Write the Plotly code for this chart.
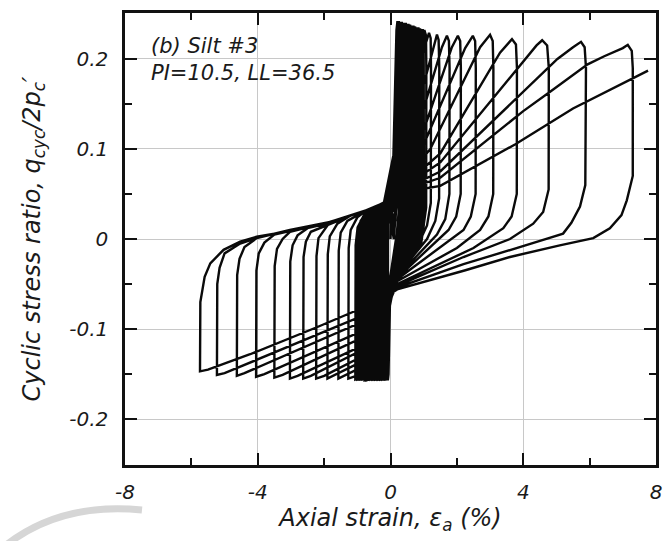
import plotly.graph_objects as go

# ---------------- digitised data (axial strain %, q_cyc/2p'c) in test order ----------------
# early small cycles (dense black core)
small_01 = [(0.0, 0.0), (0.06, 0.05), (0.18, 0.232), (0.21, 0.242), (0.24, 0.234), (0.245, 0.03), (0.19, 0.006),
            (0.0, -0.04), (-0.06, -0.15), (-0.08, -0.157), (-0.075, 0.0), (-0.04, 0.035), (0.0, 0.045)]
small_02 = [(0.06, 0.05), (0.2, 0.232), (0.23, 0.242), (0.26, 0.234), (0.265, 0.03), (0.21, 0.006), (0.0, -0.04),
            (-0.08, -0.15), (-0.12, -0.157), (-0.115, 0.005), (-0.07, 0.036), (-0.01, 0.045)]
small_03 = [(0.07, 0.05), (0.22, 0.232), (0.25, 0.242), (0.28, 0.234), (0.285, 0.03), (0.23, 0.005), (0.0, -0.041),
            (-0.09, -0.15), (-0.16, -0.157), (-0.155, 0.005), (-0.11, 0.035), (-0.02, 0.044)]
small_04 = [(0.08, 0.03), (0.25, 0.231), (0.28, 0.241), (0.31, 0.233), (0.315, 0.028), (0.26, 0.004),
            (-0.01, -0.042), (-0.1, -0.15), (-0.2, -0.157), (-0.195, 0.004), (-0.15, 0.034), (-0.04, 0.043)]
small_05 = [(0.08, 0.05), (0.28, 0.231), (0.31, 0.241), (0.34, 0.233), (0.345, 0.028), (0.29, 0.004),
            (0.0, -0.042), (-0.11, -0.15), (-0.23, -0.156), (-0.25, -0.157), (-0.245, 0.004), (-0.2, 0.033),
            (-0.06, 0.043)]
small_06 = [(0.12, 0.01), (0.31, 0.231), (0.34, 0.241), (0.37, 0.233), (0.375, 0.027), (0.32, 0.003),
            (-0.02, -0.043), (-0.12, -0.15), (-0.27, -0.156), (-0.3, -0.157), (-0.295, 0.003), (-0.25, 0.032),
            (-0.08, 0.043)]
small_07 = [(0.08, 0.05), (0.35, 0.23), (0.38, 0.24), (0.41, 0.232), (0.415, 0.027), (0.36, 0.003), (0.0, -0.043),
            (-0.13, -0.15), (-0.32, -0.156), (-0.35, -0.157), (-0.345, 0.003), (-0.3, 0.032), (-0.1, 0.042)]
small_08 = [(0.12, 0.07), (0.39, 0.23), (0.42, 0.24), (0.45, 0.232), (0.455, 0.026), (0.39, 0.002),
            (0.02, -0.044), (-0.14, -0.15), (-0.36, -0.156), (-0.4, -0.157), (-0.395, 0.002), (-0.35, 0.031),
            (-0.1, 0.042)]
small_09 = [(0.15, 0.02), (0.43, 0.23), (0.46, 0.24), (0.49, 0.232), (0.495, 0.026), (0.43, 0.002),
            (-0.02, -0.044), (-0.15, -0.148), (-0.41, -0.156), (-0.45, -0.157), (-0.445, 0.002), (-0.4, 0.03),
            (-0.1, 0.042)]
small_10 = [(0.1, 0.055), (0.47, 0.229), (0.5, 0.239), (0.53, 0.231), (0.535, 0.025), (0.47, 0.001),
            (0.0, -0.045), (-0.16, -0.146), (-0.45, -0.156), (-0.5, -0.157), (-0.495, 0.001), (-0.45, 0.03),
            (-0.1, 0.042)]
small_11 = [(0.14, 0.08), (0.51, 0.229), (0.54, 0.239), (0.57, 0.231), (0.575, 0.024), (0.51, 0.0),
            (0.02, -0.045), (-0.17, -0.145), (-0.5, -0.156), (-0.55, -0.157), (-0.545, 0.0), (-0.5, 0.029),
            (-0.35, 0.036), (-0.1, 0.042)]
small_12 = [(0.1, 0.0), (0.56, 0.228), (0.59, 0.238), (0.62, 0.23), (0.625, 0.023), (0.56, -0.001),
            (-0.02, -0.045), (-0.18, -0.144), (-0.54, -0.156), (-0.6, -0.157), (-0.595, -0.001), (-0.55, 0.028),
            (-0.4, 0.035), (-0.1, 0.042)]
small_13 = [(0.1, 0.06), (0.61, 0.227), (0.64, 0.237), (0.67, 0.229), (0.675, 0.022), (0.6, -0.002),
            (0.0, -0.045), (-0.2, -0.142), (-0.6, -0.156), (-0.66, -0.157), (-0.655, -0.002), (-0.61, 0.027),
            (-0.45, 0.034), (-0.1, 0.042)]
small_14 = [(0.15, 0.09), (0.66, 0.227), (0.69, 0.237), (0.72, 0.229), (0.725, 0.021), (0.65, -0.003),
            (0.02, -0.046), (-0.21, -0.141), (-0.65, -0.156), (-0.72, -0.157), (-0.715, -0.003), (-0.67, 0.026),
            (-0.5, 0.033), (-0.1, 0.042)]
small_15 = [(0.16, 0.03), (0.71, 0.226), (0.74, 0.236), (0.77, 0.228), (0.775, 0.02), (0.7, -0.004),
            (-0.02, -0.046), (-0.22, -0.14), (-0.7, -0.156), (-0.78, -0.157), (-0.775, -0.004), (-0.73, 0.025),
            (-0.55, 0.033), (-0.1, 0.042)]
small_16 = [(0.11, 0.065), (0.76, 0.225), (0.79, 0.235), (0.82, 0.227), (0.825, 0.019), (0.75, -0.004),
            (0.0, -0.046), (-0.24, -0.139), (-0.75, -0.155), (-0.84, -0.156), (-0.835, -0.005), (-0.79, 0.023),
            (-0.6, 0.032), (-0.12, 0.041)]
small_17 = [(0.17, 0.1), (0.81, 0.225), (0.84, 0.235), (0.87, 0.227), (0.875, 0.018), (0.8, -0.005),
            (0.02, -0.046), (-0.25, -0.138), (-0.8, -0.155), (-0.9, -0.156), (-0.895, -0.005), (-0.85, 0.022),
            (-0.65, 0.032), (-0.15, 0.041)]
small_18 = [(0.09, 0.05), (0.86, 0.224), (0.89, 0.234), (0.92, 0.226), (0.925, 0.017), (0.85, -0.005),
            (-0.02, -0.046), (-0.26, -0.137), (-0.84, -0.155), (-0.95, -0.156), (-0.945, -0.006), (-0.9, 0.02),
            (-0.7, 0.031), (-0.18, 0.041)]
small_19 = [(0.13, 0.075), (0.9, 0.223), (0.93, 0.233), (0.96, 0.225), (0.965, 0.016), (0.88, -0.006),
            (0.0, -0.046), (-0.27, -0.137), (-0.88, -0.154), (-1.0, -0.156), (-0.995, -0.007), (-0.94, 0.015),
            (-0.75, 0.029), (-0.2, 0.04)]
small_20 = [(0.18, 0.11), (0.94, 0.223), (0.97, 0.233), (1.0, 0.225), (1.005, 0.016), (0.92, -0.006),
            (0.02, -0.046), (-0.28, -0.136), (-0.92, -0.154), (-1.06, -0.156), (-1.05, -0.007), (-0.99, 0.013),
            (-0.78, 0.028), (-0.22, 0.040)]

# later, widening cycles
cycle_14 = [(0.1, 0.05), (0.5, 0.15), (0.95, 0.222), (1.02, 0.232), (1.07, 0.226), (1.08, 0.19), (1.075, 0.035),
            (0.98, 0.01), (0.75, -0.008), (0.1, -0.042), (-0.3, -0.138), (-1.1, -0.153), (-1.27, -0.155),
            (-1.26, -0.01), (-1.2, 0.01), (-1.0, 0.024), (-0.72, 0.032), (-0.22, 0.040)]
cycle_15 = [(0.1, 0.05), (0.6, 0.14), (1.07, 0.218), (1.16, 0.229), (1.21, 0.223), (1.22, 0.19), (1.215, 0.04),
            (1.1, 0.015), (0.85, -0.005), (0.1, -0.042), (-0.3, -0.132), (-1.4, -0.152), (-1.57, -0.155),
            (-1.56, -0.013), (-1.5, 0.007), (-1.3, 0.02), (-0.72, 0.032), (-0.22, 0.040)]
cycle_16 = [(0.1, 0.05), (0.7, 0.13), (1.3, 0.215), (1.4, 0.227), (1.45, 0.221), (1.47, 0.19), (1.465, 0.045),
            (1.35, 0.02), (1.1, 0.0), (0.15, -0.043), (-0.3, -0.126), (-1.7, -0.152), (-1.9, -0.155),
            (-1.89, -0.017), (-1.83, 0.003), (-1.6, 0.017), (-1.2, 0.026), (-0.72, 0.032), (-0.22, 0.040)]
cycle_17 = [(0.1, 0.05), (0.8, 0.12), (1.55, 0.213), (1.7, 0.2257), (1.76, 0.22), (1.78, 0.19), (1.775, 0.05),
            (1.65, 0.022), (1.4, 0.005), (0.15, -0.044), (-0.3, -0.12), (-2.0, -0.152), (-2.24, -0.155),
            (-2.23, -0.019), (-2.17, 0.001), (-1.95, 0.013), (-1.82, 0.019), (-1.2, 0.026), (-0.72, 0.032),
            (-0.22, 0.040)]
cycle_18 = [(0.1, 0.05), (0.9, 0.11), (1.85, 0.213), (2.03, 0.2257), (2.1, 0.22), (2.12, 0.19), (2.115, 0.05),
            (1.98, 0.025), (1.75, 0.01), (0.15, -0.045), (-0.3, -0.113), (-2.4, -0.152), (-2.63, -0.155),
            (-2.62, -0.02), (-2.55, -0.003), (-2.4, 0.008), (-1.82, 0.017), (-1.2, 0.026), (-0.72, 0.032),
            (-0.22, 0.040)]
cycle_19 = [(0.1, 0.05), (1.0, 0.105), (2.25, 0.212), (2.48, 0.2257), (2.55, 0.22), (2.57, 0.19), (2.565, 0.05),
            (2.42, 0.025), (2.2, 0.01), (0.15, -0.046), (-0.3, -0.109), (-2.8, -0.152), (-3.03, -0.155),
            (-3.02, -0.025), (-2.95, -0.007), (-2.8, 0.004), (-2.5, 0.012), (-1.82, 0.018), (-1.2, 0.026),
            (-0.72, 0.032), (-0.22, 0.040)]
cycle_20 = [(0.1, 0.05), (1.2, 0.10), (2.7, 0.213), (3.0, 0.2268), (3.08, 0.22), (3.1, 0.19), (3.095, 0.05),
            (2.95, 0.025), (2.7, 0.01), (2.0, -0.01), (0.2, -0.047), (-0.3, -0.100), (-3.25, -0.151),
            (-3.5, -0.154), (-3.49, -0.03), (-3.42, -0.011), (-3.25, 0.0), (-3.03, 0.008), (-2.5, 0.013),
            (-1.82, 0.019), (-1.2, 0.026), (-0.72, 0.032), (-0.22, 0.040)]
cycle_21 = [(0.1, 0.05), (1.5, 0.095), (3.3, 0.207), (3.66, 0.222), (3.78, 0.216), (3.81, 0.19), (3.805, 0.05),
            (3.65, 0.025), (3.4, 0.012), (2.5, -0.01), (0.2, -0.05), (-0.3, -0.093), (-3.8, -0.15),
            (-4.05, -0.153), (-4.04, -0.035), (-3.97, -0.016), (-3.8, -0.004), (-3.5, 0.005), (-3.03, 0.009),
            (-2.5, 0.014), (-1.82, 0.019), (-1.2, 0.026), (-0.72, 0.032), (-0.22, 0.040)]
cycle_22 = [(0.1, 0.05), (1.5, 0.085), (4.11, 0.203), (4.4, 0.215), (4.57, 0.2207), (4.72, 0.215), (4.77, 0.19),
            (4.765, 0.055), (4.6, 0.03), (4.3, 0.017), (3.6, 0.0), (2.2, -0.02), (0.2, -0.052), (-0.3, -0.083),
            (-4.4, -0.149), (-4.63, -0.152), (-4.62, -0.04), (-4.55, -0.022), (-4.4, -0.009), (-4.03, 0.001),
            (-3.5, 0.006), (-3.03, 0.010), (-2.5, 0.014), (-1.82, 0.019), (-1.2, 0.026), (-0.72, 0.032),
            (-0.22, 0.040)]
cycle_23 = [(0.1, 0.05), (1.5, 0.075), (4.42, 0.178), (5.03, 0.2), (5.5, 0.213), (5.74, 0.219), (5.85, 0.213),
            (5.89, 0.19), (5.87, 0.06), (5.71, 0.036), (5.45, 0.018), (5.2, 0.006), (4.6, -0.001), (3.6, -0.012),
            (2.2, -0.028), (0.2, -0.054), (-0.3, -0.077), (-5.0, -0.149), (-5.23, -0.151), (-5.22, -0.05),
            (-5.15, -0.032), (-5.0, -0.016), (-4.53, -0.005), (-4.03, 0.001), (-3.5, 0.006), (-3.03, 0.010),
            (-2.5, 0.014), (-1.82, 0.019), (-1.2, 0.026), (-0.72, 0.032), (-0.22, 0.040)]
cycle_24 = [(0.1, 0.05), (1.5, 0.068), (4.0, 0.142), (4.83, 0.164), (5.94, 0.194), (6.44, 0.203), (7.0, 0.212),
            (7.15, 0.2156), (7.27, 0.209), (7.3, 0.19), (7.3, 0.07), (7.12, 0.043), (6.96, 0.0265),
            (6.61, 0.012), (6.11, 0.001), (5.1, -0.007), (3.6, -0.02), (2.23, -0.035), (0.2, -0.056),
            (-0.3, -0.068), (-1.12, -0.081), (-2.22, -0.098), (-4.23, -0.128), (-5.5, -0.145), (-5.74, -0.147),
            (-5.73, -0.07), (-5.6, -0.042), (-5.43, -0.027), (-5.03, -0.012), (-4.53, -0.003), (-4.03, 0.0025),
            (-3.5, 0.006), (-3.03, 0.010), (-2.5, 0.014), (-1.82, 0.019), (-1.2, 0.026), (-0.72, 0.032),
            (-0.22, 0.040)]
final_branch = [(0.1, 0.05), (1.5, 0.059), (3.75, 0.105), (5.5, 0.145), (7.76, 0.187)]

test_sequence = [small_01, small_02, small_03, small_04, small_05, small_06, small_07, small_08, small_09,
                 small_10, small_11, small_12, small_13, small_14, small_15, small_16, small_17, small_18,
                 small_19, small_20, cycle_14, cycle_15, cycle_16, cycle_17, cycle_18, cycle_19, cycle_20,
                 cycle_21, cycle_22, cycle_23, cycle_24, final_branch]

x_tick_vals = [-8, -4, 0, 4, 8]
x_tick_text = ["-8", "-4", "0", "4", "8"]
y_tick_vals = [-0.2, -0.1, 0, 0.1, 0.2]
y_tick_text = ["-0.2", "-0.1", "0", "0.1", "0.2"]

panel_label = "(b) Silt #3<br>PI=10.5, LL=36.5"
x_title = "Axial strain, ε<sub>a</sub> (%)"
y_title = "Cyclic stress ratio, q<sub>cyc</sub>/2p<sub>c</sub>′"

# ---------------- figure ----------------
strain, ratio = [], []
for seg in test_sequence:
    for sx, sq in seg:
        strain.append(sx)
        ratio.append(sq)

FONT = "DejaVu Sans"
TXT = "#1a1a1a"

fig = go.Figure()
fig.add_trace(go.Scatter(x=strain, y=ratio, mode="lines",
                         line=dict(color="#0a0a0a", width=2.4), hoverinfo="skip", showlegend=False))

axis_common = dict(
    showline=True, linecolor="#111", linewidth=2.5, mirror="ticks",
    ticks="inside", ticklen=12, tickwidth=2, tickcolor="#111",
    showgrid=True, gridcolor="#c8c8c8", gridwidth=1, zeroline=False,
    tickfont=dict(family=FONT, size=20, color=TXT, style="italic"),
    automargin=False,
)

fig.update_xaxes(range=[-8, 8], tickvals=x_tick_vals, ticktext=x_tick_text, ticklabelstandoff=7,
                 minor=dict(dtick=2, tick0=0, ticks="inside", ticklen=7, tickwidth=2, tickcolor="#111",
                            showgrid=False),
                 title=dict(text=x_title, font=dict(family=FONT, size=24, color=TXT, style="italic"), standoff=6),
                 **axis_common)
fig.update_yaxes(range=[-0.251, 0.251], tickvals=y_tick_vals, ticktext=y_tick_text, ticklabelstandoff=10,
                 minor=dict(dtick=0.05, tick0=0, ticks="inside", ticklen=7, tickwidth=2, tickcolor="#111",
                            showgrid=False),
                 title=dict(text=y_title, font=dict(family=FONT, size=24, color=TXT, style="italic"), standoff=22),
                 **axis_common)

fig.add_annotation(text=panel_label, xref="paper", yref="paper", x=0.045, y=0.958,
                   xanchor="left", yanchor="top", showarrow=False, align="left",
                   font=dict(family=FONT, size=21, color=TXT, style="italic"))

# faint watermark arc of the scanned original (bottom-left)
fig.add_shape(type="path", xref="paper", yref="paper",
              path="M -0.226,-0.179 Q -0.1214,-0.0819 0.032,-0.0996",
              line=dict(color="#d6d6d6", width=7), layer="below")

fig.update_layout(width=663, height=541, margin=dict(l=125, r=7, t=13, b=76),
                  paper_bgcolor="white", plot_bgcolor="white", font=dict(family=FONT, color=TXT))

fig.write_html("out.html", config={"displayModeBar": False},
               post_script="document.body.style.margin='0';document.body.style.overflow='hidden';")
